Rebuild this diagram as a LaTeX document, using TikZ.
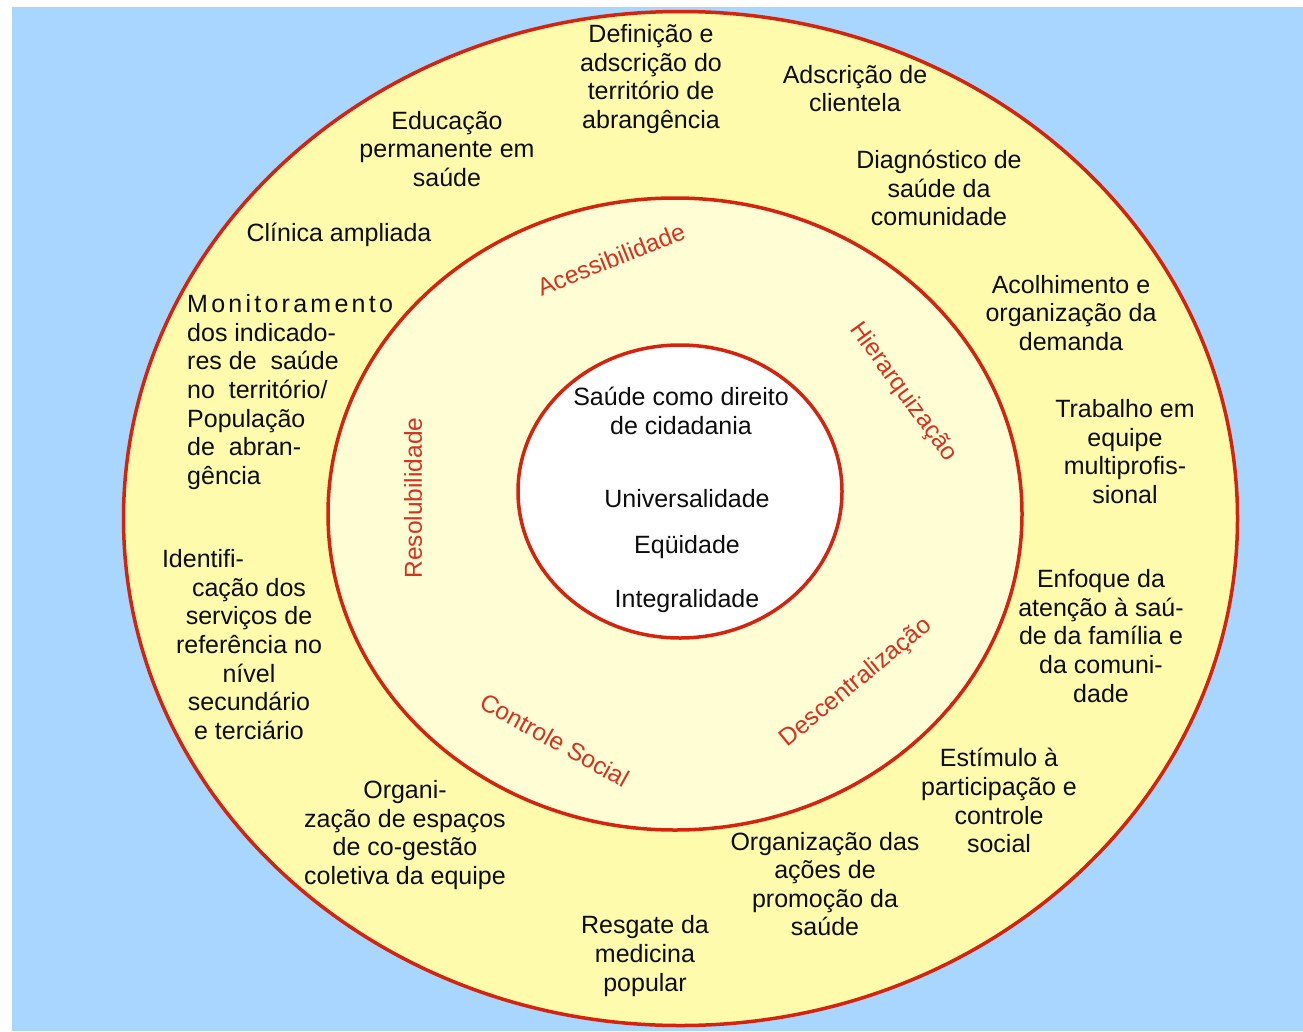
\documentclass[tikz,border=0pt]{standalone}
\usepackage{fontspec}
\setmainfont{Liberation Sans}
\definecolor{bgblue}{RGB}{168,214,254}
\definecolor{outery}{RGB}{255,251,172}
\definecolor{middley}{RGB}{255,253,212}
\definecolor{ringred}{RGB}{212,36,16}
\definecolor{labred}{RGB}{214,50,34}
\tikzset{
  ring/.style={draw=ringred, line width=3.5pt},
  ringtxt/.style={align=center, inner sep=0pt, text=black!95,
    font=\fontsize{25}{28.6}\selectfont},
  redtxt/.style={inner sep=0pt, text=labred,
    font=\fontsize{24.5}{28}\selectfont},
}
\begin{document}
\begin{tikzpicture}[x=1pt,y=-1pt]
\useasboundingbox (0,0) rectangle (1303,1031);
\fill[white] (0,0) rectangle (1303,1031);
\fill[bgblue] (12,7) rectangle (1303,1031);
% rings
\filldraw[ring, fill=outery] (680.5,518.5) ellipse [x radius=557pt, y radius=507pt];
\filldraw[ring, fill=middley] (675,514) ellipse [x radius=347pt, y radius=316pt];
\filldraw[ring, fill=white] (680,491.5) ellipse [x radius=162pt, y radius=146.5pt];
% outer ring texts
\node[ringtxt] (def) at (651,79) {Definição e\\adscrição do\\território de\\abrangência};
\node[ringtxt] (adsc) at (855,88.5) {Adscrição de\\clientela};
\node[ringtxt] (educ) at (447,149) {Educação\\permanente em\\saúde};
\node[ringtxt] (diag) at (939,188) {Diagnóstico de\\saúde da\\comunidade};
\node[ringtxt] (clin) at (339,235) {Clínica ampliada};
\node[ringtxt] (acol) at (1071,313) {Acolhimento e\\organização da\\demanda};
\node[ringtxt, align=left, anchor=west] (moni) at (187,392)
  {{\addfontfeature{LetterSpace=13}Monitoramento}\\dos indicado-\\res de\ \ saúde\\no\ \ território/\\População\\de\ \ abran-\\gência};
\node[ringtxt] (trab) at (1125,451.5) {Trabalho em\\equipe\\multiprofis-\\sional};
\node[ringtxt] (iden) at (249,644.6) {Identifi-\hspace*{92pt}\\cação dos\\serviços de\\referência no\\nível\\secundário\\e terciário};
\node[ringtxt] (enfo) at (1101,636) {Enfoque da\\atenção à saú-\\de da família e\\da comuni-\\dade};
\node[ringtxt] (esti) at (999,800.75) {Estímulo à\\participação e\\controle\\social};
\node[ringtxt] (orgc) at (405,835) {Organi-\\zação de espaços\\de co-gestão\\coletiva da equipe};
\node[ringtxt] (orga) at (825,884) {Organização das\\ações de\\promoção da\\saúde};
\node[ringtxt] (resg) at (645,956) {Resgate da\\medicina\\popular};
% middle ring labels
\node[redtxt, rotate=21.8] (aces) at (611,259) {Acessibilidade};
\node[redtxt, rotate=-54] (hier) at (903,392) {Hierarquização};
\node[redtxt, rotate=90] (reso) at (413,498) {Resolubilidade};
\node[redtxt, rotate=-29] (cont) at (555,740) {Controle Social};
\node[redtxt, rotate=39.4] (desc) at (856,683) {Descentralização};
% centre texts
\node[ringtxt] (saude) at (681,411) {Saúde como direito\\de cidadania};
\node[ringtxt] (univ) at (687,499) {Universalidade};
\node[ringtxt] (equi) at (687,547) {Eqüidade};
\node[ringtxt] (inte) at (687,601) {Integralidade};
\end{tikzpicture}
\end{document}
